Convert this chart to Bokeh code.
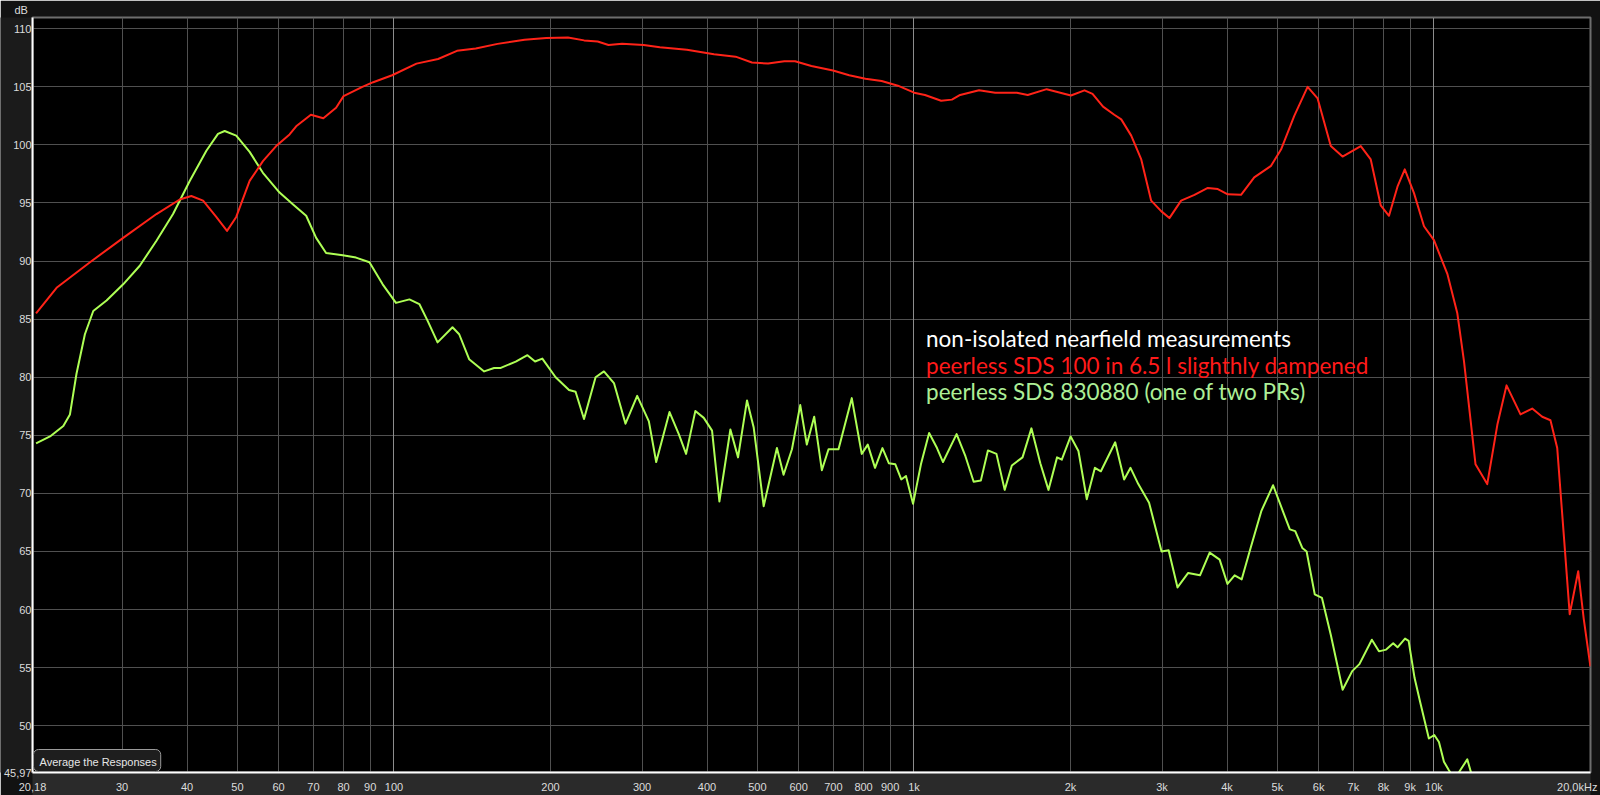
from bokeh.plotting import figure
from bokeh.models import Range1d, FixedTicker, Grid, Label
from bokeh.embed import file_html
from bokeh.resources import INLINE

# ---------------- data ----------------
red_freq = [20.5, 22.45, 26.03, 30.15, 34.94, 38.73, 40.77, 42.95, 45.53, 47.75,
            49.74, 52.78, 55.98, 59.36, 62.99, 64.86, 69.23, 73.15, 77.4, 80.0,
            86.95, 91.23, 99.2, 110.5, 121.6, 132.2, 143.7, 158.2, 178.3, 196.3,
            216.1, 232.1, 246.5, 258.6, 274.6, 302.1, 324.6, 365.9, 412.5, 454,
            488, 524.2, 563.2, 590.7, 635, 698.8, 750.7, 806.8, 866.8, 931.3,
            1001, 1050, 1128, 1183, 1227, 1334, 1433, 1577, 1655, 1800,
            2004, 2128, 2205, 2310, 2428, 2504, 2617, 2736, 2859, 2988,
            3099, 3264, 3463, 3674, 3840, 4013, 4256, 4512, 4861, 5080,
            5387, 5715, 5974, 6333, 6671, 7232, 7558, 7899, 8195, 8508,
            8787, 9154, 9568, 10000, 10610, 11090, 11420, 12020, 12660, 13240,
            13790, 14670, 15450, 16150, 16750, 17260, 17770, 18240, 18940, 19410,
            19990]
red_db = [85.5, 87.7, 89.9, 92.0, 94.05, 95.3, 95.6, 95.2, 93.8, 92.6,
          93.8, 96.9, 98.6, 99.9, 100.9, 101.6, 102.6, 102.3, 103.2, 104.2,
          105.0, 105.4, 106.0, 107.0, 107.4, 108.1, 108.3, 108.7, 109.05, 109.2,
          109.25, 109.0, 108.9, 108.6, 108.7, 108.6, 108.4, 108.2, 107.8, 107.6,
          107.1, 107.0, 107.2, 107.2, 106.8, 106.4, 106.0, 105.7, 105.5, 105.1,
          104.5, 104.3, 103.8, 103.9, 104.3, 104.7, 104.5, 104.5, 104.3, 104.8,
          104.25, 104.7, 104.4, 103.3, 102.6, 102.2, 100.8, 98.75, 95.2, 94.3,
          93.7, 95.2, 95.7, 96.3, 96.2, 95.75, 95.7, 97.2, 98.2, 99.6,
          102.5, 105.0, 104.0, 99.9, 99.0, 99.9, 98.75, 94.8, 93.9, 96.4,
          97.9, 95.85, 93.0, 91.8, 88.9, 85.5, 81.4, 72.5, 70.8, 75.9,
          79.3, 76.8, 77.3, 76.6, 76.3, 73.9, 66.4, 59.6, 63.3, 59.2,
          55.1]

green_freq = [20.5, 21.81, 23.13, 23.82, 24.52, 25.45, 26.41, 28.01, 30.15, 32.45,
              34.94, 37.6, 40.48, 43.58, 45.88, 47.26, 49.74, 52.78, 55.98, 60.26,
              63.9, 67.8, 70.86, 74.05, 79.72, 84.54, 89.72, 95.13, 100.9, 107.1,
              111.9, 116.1, 121.3, 129.6, 133.5, 139.5, 149.1, 155.8, 160.5, 171.5,
              180.6, 186.8, 192.9, 204.6, 217.1, 223.5, 232.0, 244.2, 253.4, 264.9,
              278.8, 293.6, 309.2, 319.4, 338.8, 353.0, 364.6, 379.9, 394.3, 409.0,
              422.5, 443.6, 458.9, 477.5, 491.7, 514, 545.1, 561.4, 582.6, 604.4,
              622.3, 642.9, 665.1, 685.1, 716, 759.3, 793.6, 815, 841.7, 869.8,
              894.6, 920.9, 945.4, 965.2, 996, 1031.4, 1069.5, 1107.5, 1137.3, 1207.8,
              1256, 1302.6, 1344.7, 1387.5, 1441, 1494.4, 1542.6, 1617.3, 1682.2, 1749.8,
              1814.2, 1884.5, 1924.4, 2001.2, 2071.6, 2149.3, 2228.4, 2288.2, 2437.7, 2536.2,
              2608.9, 2700.5, 2832.3, 2993.3, 3088.5, 3212.5, 3368, 3548.7, 3704, 3871.5,
              4007.6, 4137, 4269, 4440, 4658, 4905, 5119, 5282, 5410, 5582,
              5690, 5899, 6090, 6334, 6674, 6963, 7188, 7596, 7838, 8092,
              8349, 8510, 8798, 8939, 9178, 9399, 9777, 10014, 10223, 10452,
              10670, 10956, 11250, 11590, 11796, 11970]
green_db = [74.3, 74.9, 75.8, 76.8, 80.3, 83.7, 85.7, 86.6, 88.0, 89.6,
            91.75, 94.05, 96.9, 99.5, 100.95, 101.2, 100.8, 99.4, 97.6, 95.9,
            94.9, 93.9, 92.0, 90.7, 90.5, 90.3, 89.9, 88.0, 86.4, 86.7,
            86.3, 84.85, 83.0, 84.3, 83.7, 81.55, 80.5, 80.8, 80.8, 81.35,
            81.9, 81.35, 81.6, 80.0, 78.9, 78.75, 76.4, 80.0, 80.5, 79.5,
            76.0, 78.4, 76.2, 72.7, 77.0, 75.1, 73.4, 77.1, 76.5, 75.4,
            69.3, 75.5, 73.1, 78.0, 75.7, 68.9, 73.9, 71.6, 73.8, 77.6,
            74.2, 76.6, 72.0, 73.8, 73.8, 78.2, 73.4, 74.2, 72.2, 73.9,
            72.6, 72.5, 71.2, 71.5, 69.1, 72.5, 75.2, 73.9, 72.7, 75.1,
            73.2, 71.0, 71.1, 73.7, 73.4, 70.3, 72.4, 73.1, 75.6, 72.6,
            70.3, 73.1, 72.9, 74.9, 73.65, 69.5, 72.2, 71.9, 74.4, 71.2,
            72.2, 70.8, 69.2, 65.0, 65.1, 61.9, 63.15, 62.95, 64.9, 64.3,
            62.2, 62.95, 62.6, 65.3, 68.5, 70.7, 68.5, 66.9, 66.75, 65.3,
            65.0, 61.3, 61.0, 57.8, 53.1, 54.7, 55.3, 57.4, 56.4, 56.55,
            57.1, 56.75, 57.5, 57.3, 54.1, 52.1, 48.9, 49.2, 48.6, 46.9,
            46.2, 45.4, 46.2, 47.1, 45.9, 44.8]

x_min, x_max = 20.18, 20000
y_min, y_max = 45.97, 110.97

x_grid_ticks = [30, 40, 50, 60, 70, 80, 90, 100, 200, 300, 400, 500, 600, 700, 800, 900,
                1000, 2000, 3000, 4000, 5000, 6000, 7000, 8000, 9000, 10000]
x_decades = [100, 1000, 10000]
x_ticks = [x_min] + x_grid_ticks + [x_max]
x_tick_labels = ["20,18", "30", "40", "50", "60", "70", "80", "90", "100", "200", "300",
                 "400", "500", "600", "700", "800", "900", "1k", "2k", "3k", "4k", "5k",
                 "6k", "7k", "8k", "9k", "10k", "20,0kHz" + "\u00a0"]
y_grid_ticks = [50, 55, 60, 65, 70, 75, 80, 85, 90, 95, 100, 105, 110]
y_ticks = [y_min] + y_grid_ticks
y_tick_labels = ["45,97", "50", "55", "60", "65", "70", "75", "80", "85", "90", "95",
                 "100", "105", "110"]

legend_lines = ["non-isolated nearfield measurements",
                "peerless SDS 100 in 6.5 l slighthly dampened",
                "peerless SDS 830880 (one of two PRs)"]
legend_db = [83.3, 81.0, 78.8]
legend_freq = 1055

# ---------------- figure ----------------
p = figure(width=1600, height=795, x_axis_type="log",
           x_range=Range1d(x_min, x_max), y_range=Range1d(y_min, y_max),
           output_backend="svg", toolbar_location=None, title="dB",
           min_border_left=30, min_border_right=10, min_border_top=17, min_border_bottom=23)

p.background_fill_color = "#000000"
p.border_fill_color = "#121212"
p.outline_line_color = "#6e6e6e"
p.outline_line_width = 2

lab_font = "Liberation Sans"

p.title.align = "left"
p.title.offset = -18
p.title.standoff = 3
p.title.text_font = lab_font
p.title.text_font_size = "11px"
p.title.text_font_style = "normal"
p.title.text_color = "#dcdcdc"

xa = p.xaxis[0]
xa.ticker = FixedTicker(ticks=x_ticks, minor_ticks=[])
xa.major_label_overrides = {t: l for t, l in zip(x_ticks, x_tick_labels)}
xa.major_tick_out = 0
xa.major_tick_in = 0
xa.minor_tick_out = 0
xa.minor_tick_in = 0
xa.major_label_standoff = 8
xa.major_label_text_font = lab_font
xa.major_label_text_font_size = "11px"
xa.major_label_text_color = "#dcdcdc"
xa.axis_line_color = "#ffffff"
xa.axis_line_width = 2
xa.background_fill_color = "#2a2a2a"

ya = p.yaxis[0]
ya.ticker = FixedTicker(ticks=y_ticks, minor_ticks=[])
ya.major_label_overrides = {t: l for t, l in zip(y_ticks, y_tick_labels)}
ya.major_tick_out = 0
ya.major_tick_in = 0
ya.minor_tick_out = 0
ya.minor_tick_in = 0
ya.major_label_standoff = 1
ya.major_label_text_font = lab_font
ya.major_label_text_font_size = "11px"
ya.major_label_text_color = "#dcdcdc"
ya.axis_line_color = "#ffffff"
ya.axis_line_width = 2
ya.background_fill_color = "#1b1b1b"

p.xgrid.ticker = FixedTicker(ticks=x_grid_ticks, minor_ticks=[])
p.xgrid.grid_line_color = "#505050"
p.xgrid.grid_line_width = 1
p.ygrid.ticker = FixedTicker(ticks=y_grid_ticks, minor_ticks=[])
p.ygrid.grid_line_color = "#505050"
p.ygrid.grid_line_width = 1

dec_grid = Grid(dimension=0, ticker=FixedTicker(ticks=x_decades, minor_ticks=[]),
                grid_line_color="#8c8c8c", grid_line_width=1)
p.add_layout(dec_grid)

# ---------------- curves ----------------
p.line(green_freq, green_db, line_color="#aeff55", line_width=2, line_join="round")
p.line(red_freq, red_db, line_color="#ff2318", line_width=2, line_join="round")

# ---------------- texts ----------------
legend_colors = ["#ffffff", "#ff1a1a", "#adef97"]
for txt, yy, col in zip(legend_lines, legend_db, legend_colors):
    p.add_layout(Label(x=legend_freq, y=yy, text=txt, text_color=col,
                       text_font="Lato", text_font_size="22.5px",
                       text_align="left", text_baseline="alphabetic"))

p.add_layout(Label(x=x_min, y=y_min, x_offset=1, y_offset=1,
                   text="Average the Responses",
                   text_color="#e6e6e6", text_font=lab_font, text_font_size="11px",
                   text_align="left", text_baseline="bottom",
                   background_fill_color="#1e1e1e", border_line_color="#9a9a9a",
                   border_line_width=1, border_radius=5, padding=(6, 4, 6, 4)))

open("out.html", "w").write(file_html(p, INLINE))
